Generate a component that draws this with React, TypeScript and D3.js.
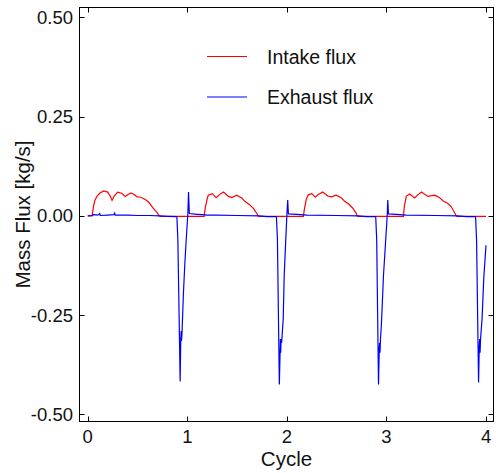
import React from "react";
import * as d3 from "d3";

// ---- data (cycle, mass flux kg/s) ----
const intakeFlux: [number, number][] = [
  [0, 0], [0.044, 0], [0.055, 0.02], [0.07, 0.038], [0.094, 0.05], [0.12, 0.057], [0.16, 0.063],
  [0.2, 0.06], [0.225, 0.05], [0.244, 0.039], [0.265, 0.05], [0.3, 0.06], [0.34, 0.057],
  [0.378, 0.049], [0.405, 0.054], [0.435, 0.058], [0.465, 0.054], [0.495, 0.048], [0.53, 0.047],
  [0.56, 0.044], [0.585, 0.04], [0.61, 0.035], [0.63, 0.029], [0.645, 0.023], [0.67, 0.016],
  [0.69, 0.01], [0.71, 0.003], [0.72, 0], [0.73, -0.001],
  [1.169, -0.001], [1.18, 0.02], [1.196, 0.039], [1.21, 0.052], [1.25, 0.056], [1.29, 0.046],
  [1.32, 0.053], [1.363, 0.06], [1.413, 0.049], [1.447, 0.046], [1.495, 0.052], [1.547, 0.045],
  [1.58, 0.036], [1.623, 0.029], [1.663, 0.019], [1.697, 0.006], [1.71, 0], [1.72, -0.001],
  [2.165, -0.001], [2.178, 0.02], [2.195, 0.042], [2.215, 0.053], [2.25, 0.056], [2.285, 0.047],
  [2.315, 0.054], [2.36, 0.06], [2.41, 0.05], [2.45, 0.048], [2.495, 0.052], [2.545, 0.046],
  [2.58, 0.037], [2.62, 0.03], [2.66, 0.02], [2.695, 0.007], [2.705, 0], [2.715, -0.001],
  [3.17, -0.001], [3.18, 0.025], [3.2, 0.05], [3.233, 0.055], [3.283, 0.045], [3.315, 0.053],
  [3.35, 0.06], [3.417, 0.049], [3.484, 0.052], [3.534, 0.046], [3.567, 0.038], [3.617, 0.031],
  [3.651, 0.023], [3.685, 0.008], [3.7, 0], [3.71, -0.001], [4.0, -0.001],
];

const exhaustFlux: [number, number][] = [
  [0, 0], [0.04, 0.001], [0.06, 0.003], [0.1, 0.002], [0.12, 0.006], [0.125, 0.001], [0.2, 0.002],
  [0.26, 0.003], [0.27, 0.007], [0.275, 0.002], [0.4, 0.002], [0.5, 0.001], [0.62, 0.001],
  [0.72, 0], [0.8, -0.001], [0.895, -0.002], [0.905, -0.06], [0.928, -0.417], [0.934, -0.31],
  [0.938, -0.29], [0.941, -0.315], [0.946, -0.3], [0.96, -0.2], [0.975, -0.12], [0.99, -0.055],
  [1.005, 0.004], [1.012, 0.06], [1.02, 0.006], [1.1, 0.004], [1.15, 0.003], [1.2, 0.002],
  [1.3, 0.002], [1.5, 0.001], [1.72, 0], [1.8, -0.002], [1.895, -0.002], [1.905, -0.06],
  [1.924, -0.425], [1.932, -0.34], [1.935, -0.31], [1.938, -0.345], [1.941, -0.31], [1.947, -0.32],
  [1.963, -0.26], [1.973, -0.15], [1.985, -0.08], [2.0, 0.003], [2.008, 0.04], [2.015, 0.005],
  [2.1, 0.004], [2.2, 0.002], [2.5, 0.001], [2.71, 0], [2.8, -0.002], [2.892, -0.002],
  [2.902, -0.06], [2.92, -0.425], [2.928, -0.33], [2.932, -0.32], [2.935, -0.345], [2.94, -0.31],
  [2.95, -0.27], [2.97, -0.15], [2.99, -0.07], [3.008, 0.003], [3.013, 0.04], [3.02, 0.005],
  [3.1, 0.004], [3.2, 0.002], [3.5, 0.001], [3.71, 0], [3.8, -0.002], [3.895, -0.002],
  [3.905, -0.06], [3.925, -0.42], [3.932, -0.33], [3.936, -0.31], [3.94, -0.345], [3.945, -0.31],
  [3.96, -0.26], [3.978, -0.153], [3.99, -0.11], [4.0, -0.074],
];

const xTicks = [0, 1, 2, 3, 4];
const xTickLabels = ["0", "1", "2", "3", "4"];
const yTicks = [-0.5, -0.25, 0, 0.25, 0.5];
const yTickLabels = ["-0.50", "-0.25", "0.00", "0.25", "0.50"];
const seriesNames = ["Intake flux", "Exhaust flux"];
const seriesColors = ["#ff0000", "#0000ff"];

const W = 496, H = 473;
const L = 79.5, R = 493.5, T = 7.5, B = 421.5;
const FONT = "'Liberation Sans', Arial, sans-serif";

export default function App() {
  const x = d3.scaleLinear().domain([-0.083, 4.075]).range([L, R]);
  const y = d3.scaleLinear().domain([-0.518, 0.525]).range([B, T]);
  const line = d3.line<[number, number]>().x(d => x(d[0])).y(d => y(d[1]));
  const tl = 5;
  return (
    <svg width={W} height={H} style={{ position: "absolute", left: 0, top: 0, background: "#fff" }}>
      <path d={line(intakeFlux) || ""} fill="none" stroke={seriesColors[0]} strokeWidth={1.2} />
      <path d={line(exhaustFlux) || ""} fill="none" stroke={seriesColors[1]} strokeWidth={1.2} />
      <rect x={L} y={T} width={R - L} height={B - T} fill="none" stroke="#000" strokeWidth={1} />
      {xTicks.map((t, i) => (
        <g key={"x" + i}>
          <line x1={Math.round(x(t)) + 0.5} x2={Math.round(x(t)) + 0.5} y1={B} y2={B - tl} stroke="#000" />
          <line x1={Math.round(x(t)) + 0.5} x2={Math.round(x(t)) + 0.5} y1={T} y2={T + tl} stroke="#000" />
          <text x={x(t)} y={443} textAnchor="middle" fontFamily={FONT} fontSize={18.5} fill="#111">{xTickLabels[i]}</text>
        </g>
      ))}
      {yTicks.map((t, i) => (
        <g key={"y" + i}>
          <line x1={L} x2={L + tl} y1={Math.round(y(t)) + 0.5} y2={Math.round(y(t)) + 0.5} stroke="#000" />
          <line x1={R} x2={R - tl} y1={Math.round(y(t)) + 0.5} y2={Math.round(y(t)) + 0.5} stroke="#000" />
          <text x={73} y={y(t) + 6.5} textAnchor="end" fontFamily={FONT} fontSize={18.5} fill="#111">{yTickLabels[i]}</text>
        </g>
      ))}
      <text x={(L + R) / 2} y={466} textAnchor="middle" fontFamily={FONT} fontSize={20.5} fill="#111">Cycle</text>
      <text transform={`translate(30,${(T + B) / 2}) rotate(-90)`} textAnchor="middle" fontFamily={FONT} fontSize={20.5} fill="#111">Mass Flux [kg/s]</text>
      {seriesNames.map((n, i) => (
        <g key={n}>
          <line x1={207} x2={247} y1={56.5 + i * 40.5} y2={56.5 + i * 40.5} stroke={seriesColors[i]} strokeWidth={1.2} />
          <text x={267} y={63.5 + i * 40.5} fontFamily={FONT} fontSize={19.5} fill="#111">{n}</text>
        </g>
      ))}
    </svg>
  );
}
